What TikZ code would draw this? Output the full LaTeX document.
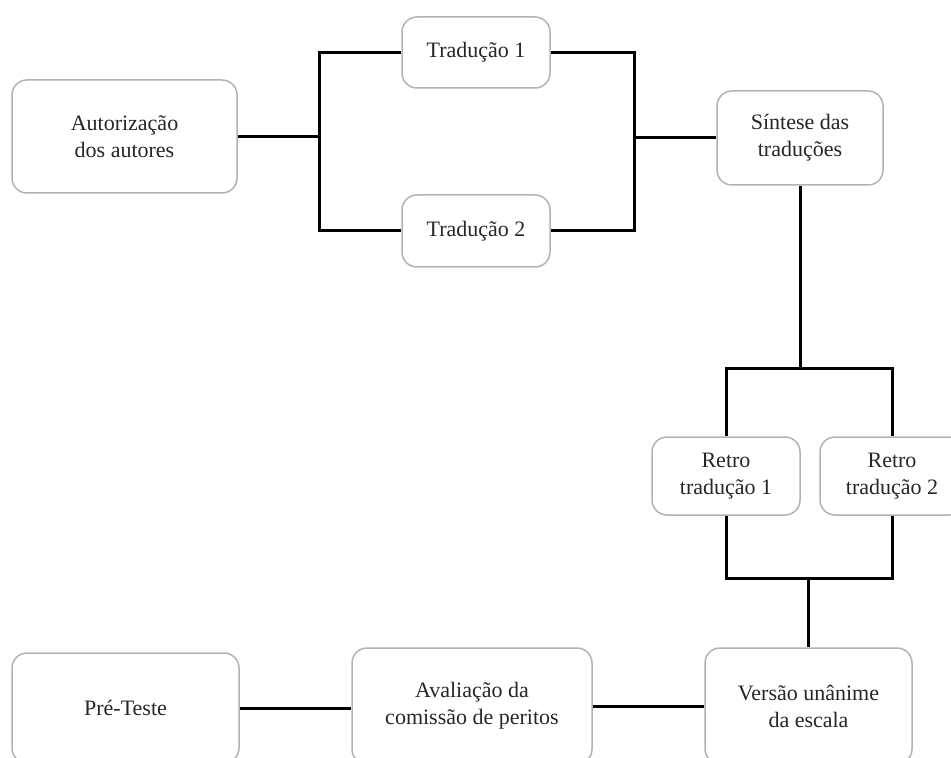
\documentclass[tikz,border=0pt]{standalone}
\usepackage{fontspec}
\setmainfont{Liberation Serif}
\tikzset{
  etapa/.style={draw=black!30, line width=0.75pt, rounded corners=7.5pt, align=center,
    font=\fontsize{11}{13.5}\selectfont, text=black!85, inner sep=0pt},
  ligacao/.style={line width=1.5pt, black}
}

\begin{document}
\begin{tikzpicture}[x=0.5pt,y=-0.5pt]
\clip (0,0) rectangle (951,758);
\node[etapa, minimum width=112.5pt, minimum height=56.5pt] (aut) at (124.5,136.5) {Autorização\\dos autores};
\node[etapa, minimum width=74pt, minimum height=35.5pt] (trad1) at (476,52.5) {Tradução 1};
\node[etapa, minimum width=74pt, minimum height=36pt] (trad2) at (476,231) {Tradução 2};
\node[etapa, minimum width=83pt, minimum height=47pt] (sint) at (800,138) {Síntese das\\traduções};
\node[etapa, minimum width=74pt, minimum height=39pt] (retro1) at (726,476) {Retro\\tradução 1};
\node[etapa, minimum width=72pt, minimum height=39pt] (retro2) at (892,476) {Retro\\tradução 2};
\node[etapa, minimum width=103.5pt, minimum height=58pt] (versao) at (808.5,706) {Versão unânime\\da escala};
\node[etapa, minimum width=120pt, minimum height=58pt] (aval) at (472,706) {Avaliação da\\comissão de peritos};
\node[etapa, minimum width=113.5pt, minimum height=55pt] (pre) at (125.5,708) {Pré-Teste};
\coordinate (j1) at (319,136.5);
\coordinate (j2) at (634,138);
\coordinate (j3) at (800,369);
\coordinate (j4) at (808.5,578);
\draw[ligacao] (aut.east) -- (j1);
\draw[ligacao] (trad1.west) -| (j1) |- (trad2.west);
\draw[ligacao] (trad1.east) -| (j2) |- (trad2.east);
\draw[ligacao] (j2) -- (sint.west);
\draw[ligacao] (sint.south) -- (j3);
\draw[ligacao] (retro1.north) |- (j3) -| (retro2.north);
\draw[ligacao] (retro1.south) |- (j4) -| (retro2.south);
\draw[ligacao] (j4) -- (versao.north);
\draw[ligacao] (versao.west) -- (aval.east);
\draw[ligacao] (pre.east) -- (pre.east -| aval.west);
\end{tikzpicture}
\end{document}
